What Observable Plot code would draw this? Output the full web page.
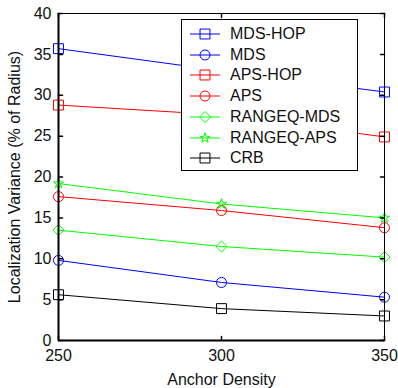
<!DOCTYPE html>
<html>
<head>
<meta charset="utf-8">
<script src="https://cdn.jsdelivr.net/npm/d3@7"></script>
<script src="https://cdn.jsdelivr.net/npm/@observablehq/plot@0.6"></script>
<style>
  body { margin: 0; background: #fff; }
  #wrap { position: relative; width: 398px; height: 388px; font-family: "Liberation Sans", Arial, sans-serif; }
  #legend { position: absolute; left: 181px; top: 19px; width: 175px; height: 150px; border: 1.5px solid #000; background: #fff; box-sizing: content-box; }
  .row { position: absolute; left: 0; height: 20px; display: flex; align-items: center; font-size: 16px; color: #111; white-space: nowrap; }
  .row svg { display: block; }
</style>
</head>
<body>
<div id="wrap"></div>
<script>
const density = [250, 300, 350];
const mdsHop = [35.7, 33.0, 30.4];
const mds = [9.8, 7.1, 5.3];
const apsHop = [28.8, 27.6, 24.9];
const aps = [17.6, 15.9, 13.8];
const rangeqMds = [13.5, 11.5, 10.2];
const rangeqAps = [19.2, 16.7, 15.0];
const crb = [5.6, 3.9, 3.0];

const seriesNames = ["MDS-HOP", "MDS", "APS-HOP", "APS", "RANGEQ-MDS", "RANGEQ-APS", "CRB"];
const seriesValues = [mdsHop, mds, apsHop, aps, rangeqMds, rangeqAps, crb];
const seriesColors = ["#0000ff", "#0000ff", "#ff0000", "#ff0000", "#00ff00", "#00ff00", "#000000"];
const seriesSymbols = ["square", "circle", "square", "circle", "diamond2", "star", "square"];
const seriesR = [5.6, 5, 5.6, 5, 5, 3.2, 5.6];

const xTicks = [250, 300, 350];
const yTicks = [0, 5, 10, 15, 20, 25, 30, 35, 40];

const rows = [];
seriesNames.forEach((name, s) => {
  density.forEach((d, i) => rows.push({series: name, x: d, y: seriesValues[s][i], s}));
});

const tickShape = {draw(context, l) { context.moveTo(0, 0); context.lineTo(0, -l); }};
const font = "Liberation Sans, Arial, sans-serif";

const marks = [];
seriesNames.forEach((name, s) => {
  const data = rows.filter(r => r.s === s);
  marks.push(Plot.line(data, {x: "x", y: "y", stroke: seriesColors[s], strokeWidth: 1}));
  marks.push(Plot.dot(data, {x: "x", y: "y", symbol: () => seriesSymbols[s], r: seriesR[s], stroke: seriesColors[s], fill: "none", strokeWidth: 1}));
});

const chart = Plot.plot({
  width: 398,
  height: 388,
  marginLeft: 58,
  marginRight: 14,
  marginTop: 13,
  marginBottom: 48,
  style: {fontFamily: font, fontSize: "16px", color: "#111", background: "#fff"},
  x: {domain: [250, 350], labelArrow: "none"},
  y: {domain: [0, 40], labelArrow: "none"},
  symbol: {type: "identity"},
  marks: [
    ...marks,
    Plot.frame({stroke: "#000", strokeWidth: 1}),
    Plot.ruleX([250], {stroke: "#000", strokeWidth: 2}),
    Plot.ruleY([0], {stroke: "#000", strokeWidth: 2}),
    Plot.vector(yTicks, {x: 250, y: d => d, length: 4, rotate: 90, anchor: "start", shape: tickShape, stroke: "#000"}),
    Plot.vector(yTicks, {x: 350, y: d => d, length: 4, rotate: -90, anchor: "start", shape: tickShape, stroke: "#000"}),
    Plot.vector(xTicks, {x: d => d, y: 0, length: 4, rotate: 0, anchor: "start", shape: tickShape, stroke: "#000"}),
    Plot.vector(xTicks, {x: d => d, y: 40, length: 4, rotate: 180, anchor: "start", shape: tickShape, stroke: "#000"}),
    Plot.axisX({ticks: xTicks, tickSize: 0, tickPadding: 9, fontSize: 16, label: "Anchor Density", labelArrow: "none", labelAnchor: "center", labelOffset: 44, tickFormat: d => String(d)}),
    Plot.axisY({ticks: yTicks, tickSize: 0, tickPadding: 7, fontSize: 16, label: "Localization Variance (% of Radius)", labelArrow: "none", labelAnchor: "center", labelOffset: 50, tickFormat: d => String(d)})
  ]
});

const wrap = document.getElementById("wrap");
wrap.appendChild(chart);

const legend = document.createElement("div");
legend.id = "legend";
seriesNames.forEach((name, s) => {
  const row = document.createElement("div");
  row.className = "row";
  row.style.top = (4 + s * 20.7) + "px";
  const sym = d3.symbol().type({square: d3.symbolSquare, circle: d3.symbolCircle, diamond2: d3.symbolDiamond2, star: d3.symbolStar}[seriesSymbols[s]]).size(seriesR[s] * seriesR[s] * Math.PI)();
  row.innerHTML = `<svg width="48" height="20"><line x1="8" y1="10" x2="38" y2="10" stroke="${seriesColors[s]}" stroke-width="1"/><path d="${sym}" transform="translate(23,10)" fill="none" stroke="${seriesColors[s]}"/></svg><span>${name}</span>`;
  legend.appendChild(row);
});
wrap.appendChild(legend);
</script>
</body>
</html>
